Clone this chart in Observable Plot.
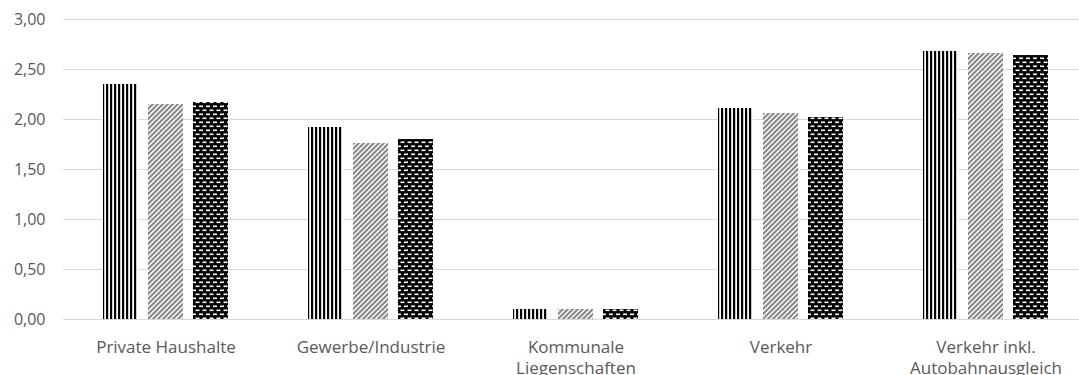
<!DOCTYPE html>
<html><head><meta charset="utf-8">
<script src="https://cdn.jsdelivr.net/npm/d3@7"></script>
<script src="https://cdn.jsdelivr.net/npm/@observablehq/plot@0.6"></script>
<style>
html,body{margin:0;padding:0;background:#fff;overflow:hidden}
#chart{width:1079px;height:375px;overflow:hidden}
</style>
</head><body><div id="chart"></div>
<script>
const categories = ["Private Haushalte", "Gewerbe/Industrie", "Kommunale Liegenschaften", "Verkehr", "Verkehr inkl. Autobahnausgleich"];
const categoryLabels = ["Private Haushalte", "Gewerbe/Industrie", "Kommunale\nLiegenschaften", "Verkehr", "Verkehr inkl.\nAutobahnausgleich"];
const seriesNames = ["Reihe 1", "Reihe 2", "Reihe 3"];
const series1 = [2.35, 1.92, 0.10, 2.11, 2.68];
const series2 = [2.15, 1.76, 0.10, 2.06, 2.66];
const series3 = [2.17, 1.80, 0.10, 2.02, 2.64];
const yTicks = [0, 0.5, 1, 1.5, 2, 2.5, 3];
const seriesFills = ["url(#pVert)", "url(#pDiag)", "url(#pDash)"];

const allSeries = [series1, series2, series3];
const rows = [];
categories.forEach((c, i) => {
  allSeries.forEach((s, j) => rows.push({category: c, series: seriesNames[j], value: s[i], fill: seriesFills[j]}));
});
const fmt = d => d3.format(".2f")(d).replace(".", ",");

const plot = Plot.plot({
  width: 1079,
  height: 375,
  marginLeft: 61,
  marginRight: 0,
  marginTop: 19,
  marginBottom: 56,
  style: {fontFamily: "'Open Sans', sans-serif", fontSize: "16px", color: "#595959", background: "#fff"},
  fx: {domain: categories, range: [61, 1090], padding: 0, axis: null, label: null},
  x: {domain: seriesNames, paddingInner: 0.22, paddingOuter: 0.845, axis: null},
  y: {domain: [0, 3], ticks: yTicks, tickFormat: fmt, tickSize: 0, tickPadding: 18, label: null},
  color: {type: "identity"},
  marks: [
    Plot.ruleY(yTicks, {stroke: "#d9d9d9", strokeWidth: 1}),
    Plot.barY(rows, {fx: "category", x: "series", y: "value", fill: "fill"}),
    Plot.text(categories, {fx: d => d, text: (d, i) => categoryLabels[i], frameAnchor: "bottom", dy: 18, lineAnchor: "top", lineHeight: 1.25, fill: "#595959", fontSize: 17})
  ]
});

const defs = `<defs>
<pattern id="pVert" patternUnits="userSpaceOnUse" width="4" height="4">
  <rect x="0" y="0" width="4" height="4" fill="#fff"/>
  <rect x="0" y="0" width="2.2" height="4" fill="#000"/>
</pattern>
<pattern id="pDiag" patternUnits="userSpaceOnUse" width="5" height="5">
  <rect x="0" y="0" width="5" height="5" fill="#fff"/>
  <path d="M-1,1 L1,-1 M0,5 L5,0 M4,6 L6,4" stroke="#8a8a8a" stroke-width="2.2"/>
</pattern>
<pattern id="pDash" patternUnits="userSpaceOnUse" width="7" height="8">
  <rect x="0" y="0" width="7" height="8" fill="#000"/>
  <rect x="1" y="1.5" width="4" height="1.6" fill="#fff"/>
  <rect x="4.5" y="5.5" width="4" height="1.6" fill="#fff"/>
  <rect x="-2.5" y="5.5" width="4" height="1.6" fill="#fff"/>
</pattern>
</defs>`;
plot.insertAdjacentHTML("afterbegin", defs);
document.getElementById("chart").appendChild(plot);
</script>
</body></html>
